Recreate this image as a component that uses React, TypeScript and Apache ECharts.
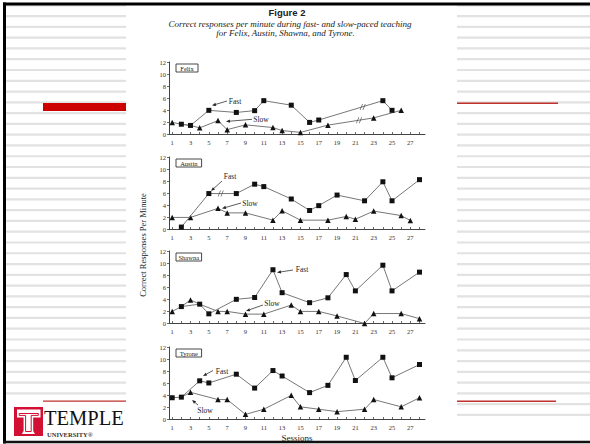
import React, { useEffect, useRef } from "react";
import * as echarts from "echarts";

// ---- data ----
const sessions: number[] = Array.from({ length: 28 }, (_, i) => i + 1);
const labelSessions: number[] = [1, 3, 5, 7, 9, 11, 13, 15, 17, 19, 21, 23, 25, 27];
const students: string[] = ["Felix", "Austin", "Shawna", "Tyrone"];

const felixFast: [number, number][] = [[2, 1.7], [3, 1.5], [5, 4.0], [8, 3.65], [10, 3.95], [11, 5.6], [14, 4.85], [16, 2.0], [17, 2.4], [24, 5.6], [25, 4.0]];
const felixSlow: [number, number][] = [[1, 2.0], [2, 1.7], [3, 1.5], [4, 1.1], [6, 2.3], [7, 0.8], [9, 1.6], [12, 1.15], [13, 0.65], [15, 0.35], [18, 1.55], [23, 2.75], [26, 4.0]];
const austinFast: [number, number][] = [[2, 0.4], [5, 5.95], [8, 5.95], [10, 7.5], [11, 7.1], [14, 5.05], [16, 3.15], [17, 3.95], [19, 5.7], [22, 4.75], [24, 7.9], [25, 4.75], [28, 8.25]];
const austinSlow: [number, number][] = [[1, 2.0], [3, 2.0], [6, 3.5], [7, 2.75], [9, 2.75], [12, 1.55], [13, 3.1], [15, 1.55], [18, 1.55], [20, 2.15], [21, 1.7], [23, 3.05], [26, 2.3], [27, 1.5]];
const shawnaFast: [number, number][] = [[2, 2.8], [4, 3.2], [5, 1.6], [8, 4.0], [10, 4.3], [12, 8.9], [13, 5.1], [16, 3.45], [18, 4.25], [20, 8.1], [21, 5.4], [24, 9.65], [25, 5.4], [28, 8.5]];
const shawnaSlow: [number, number][] = [[1, 2.0], [2, 2.8], [3, 3.9], [4, 3.2], [6, 2.0], [7, 2.0], [9, 1.55], [11, 1.55], [14, 3.05], [15, 2.0], [17, 2.0], [19, 1.25], [22, 0.0], [23, 1.65], [26, 1.65], [28, 0.8]];
const tyroneFast: [number, number][] = [[1, 3.6], [2, 3.7], [4, 6.4], [5, 6.05], [8, 7.5], [10, 5.2], [12, 8.1], [13, 7.2], [16, 4.45], [18, 5.65], [20, 10.3], [21, 6.45], [24, 10.3], [25, 6.9], [28, 9.1]];
const tyroneSlow: [number, number][] = [[2, 3.7], [3, 4.5], [6, 3.3], [7, 3.3], [9, 0.85], [11, 1.7], [14, 4.0], [15, 2.1], [17, 1.7], [19, 1.3], [22, 1.7], [23, 3.3], [26, 2.1], [28, 3.6]];

const fastData = [felixFast, austinFast, shawnaFast, tyroneFast];
const slowData = [felixSlow, austinSlow, shawnaSlow, tyroneSlow];
// break marks ("//") on the lines
const breakData: [number, number][][] = [[[21.8, 4.55], [21.4, 2.35]], [[6.3, 5.95]], [], []];

// ---- layout ----
const GRID_TOPS = [62, 157, 251, 347];
const GRID_H = 72.5;
const GRID_L = 169;
const GRID_W = 256;
const SERIF = "'Liberation Serif', 'Times New Roman', serif";

const annotations = [
  { fast: { t: [235, 101.5], a: [227, 101, 212, 105.5] }, slow: { t: [261, 119], a: [252, 119.3, 226, 121.5] } },
  { fast: { t: [230, 176.5], a: [222, 181, 211, 191] }, slow: { t: [250, 203.5], a: [241, 203, 222, 208.5] } },
  { fast: { t: [302, 269.5], a: [293, 270, 277, 272.5] }, slow: { t: [272, 303.5], a: [263, 305, 246, 311] } },
  { fast: { t: [222, 371.5], a: [213, 370.5, 203, 376] }, slow: { t: [205, 410], a: [198, 405, 192, 400] } },
];

function arrow(x1: number, y1: number, x2: number, y2: number): any[] {
  const dx = x2 - x1, dy = y2 - y1;
  const len = Math.sqrt(dx * dx + dy * dy) || 1;
  const ux = dx / len, uy = dy / len;
  const hl = 4, hw = 1.6;
  const bx = x2 - ux * hl, by = y2 - uy * hl;
  return [
    { type: "line", shape: { x1, y1, x2: bx, y2: by }, style: { stroke: "#333", lineWidth: 0.8 }, silent: true },
    {
      type: "polygon",
      shape: { points: [[x2, y2], [bx - uy * hw, by + ux * hw], [bx + uy * hw, by - ux * hw]] },
      style: { fill: "#222" },
      silent: true,
    },
  ];
}

function text(x: number, y: number, t: string, font: string, extra: any = {}): any {
  const align = (extra.style && extra.style.align) || "center";
  return {
    type: "text",
    x,
    y,
    silent: true,
    ...extra,
    style: {
      text: t,
      font,
      fill: "#222",
      align,
      verticalAlign: "middle",
      textAlign: align,
      textVerticalAlign: "middle",
      ...(extra.style || {}),
    },
  };
}

function buildGraphics(): any[] {
  const g: any[] = [];
  // stripes on the side columns
  for (let n = -1; n <= 37; n++) {
    const y = 16 + n * 10.78;
    if (y < 396) g.push({ type: "rect", shape: { x: 6, y: y - 1, width: 120, height: 2.2 }, style: { fill: "#e2e2e2" }, silent: true });
    g.push({ type: "rect", shape: { x: 457, y: y - 1, width: 133, height: 2.2 }, style: { fill: "#e2e2e2" }, silent: true });
  }
  // red accents
  g.push({ type: "rect", shape: { x: 43, y: 103, width: 83, height: 8 }, style: { fill: "#cc0000" }, silent: true });
  g.push({ type: "rect", shape: { x: 457, y: 102.6, width: 101, height: 1.4 }, style: { fill: "#c0302c" }, silent: true });
  g.push({ type: "rect", shape: { x: 43, y: 400.6, width: 83, height: 1.2 }, style: { fill: "#c0302c" }, silent: true });
  g.push({ type: "rect", shape: { x: 457, y: 400.6, width: 99, height: 1.4 }, style: { fill: "#c0302c" }, silent: true });
  // black frame
  g.push({ type: "rect", shape: { x: 3, y: 2.5, width: 587, height: 3 }, style: { fill: "#000" }, silent: true });
  g.push({ type: "rect", shape: { x: 3, y: 2.5, width: 3, height: 441 }, style: { fill: "#000" }, silent: true });
  g.push({ type: "rect", shape: { x: 3, y: 440.8, width: 587, height: 2.5 }, style: { fill: "#111" }, silent: true });

  // Temple logo
  g.push({ type: "rect", shape: { x: 14, y: 407, width: 29, height: 29 }, style: { fill: "#d21034" }, silent: true });
  g.push({
    type: "polygon",
    shape: { points: [[17, 409.5], [40.5, 409.5], [40.5, 417.5], [33.2, 417.5], [33.2, 431], [35, 434], [21.8, 434], [23.6, 431], [23.6, 417.5], [17, 417.5]] },
    style: { fill: "#fff" },
    silent: true,
  });
  g.push({
    type: "polyline",
    shape: { points: [[19.2, 413.5], [38.3, 413.5], [38.3, 415.4], [31.2, 415.4], [31.2, 431.5], [25.6, 431.5], [25.6, 415.4], [19.2, 415.4], [19.2, 413.5]] },
    style: { stroke: "#d21034", lineWidth: 1, fill: "none" },
    silent: true,
  });
  g.push(text(44, 417.5, "TEMPLE", `20.5px ${SERIF}`, { style: { fill: "#111", align: "left" } }));
  g.push(text(47, 434, "UNIVERSITY®", `bold 6.5px ${SERIF}`, { style: { fill: "#333", align: "left" } }));

  // titles
  g.push(text(287, 12.5, "Figure 2", "bold 9.5px 'Liberation Sans', Arial, sans-serif"));
  g.push(text(290, 24.3, "Correct responses per minute during fast- and slow-paced teaching", `italic 9px ${SERIF}`));
  g.push(text(285.5, 33.3, "for Felix, Austin, Shawna, and Tyrone.", `italic 9px ${SERIF}`));

  // y-axis label
  g.push(text(143, 245, "Correct Responses Per Minute", `8.5px ${SERIF}`, { rotation: Math.PI / 2 }));

  // name boxes and annotations
  students.forEach((name, i) => {
    const top = GRID_TOPS[i];
    const w = name.length * 3.6 + 4;
    g.push({ type: "rect", shape: { x: 176, y: top + 2, width: w, height: 8 }, style: { fill: "#fff", stroke: "#333", lineWidth: 0.9 }, silent: true });
    g.push(text(176 + w / 2, top + 6.2, name, `6.5px ${SERIF}`));
    const an = annotations[i];
    g.push(text(an.fast.t[0], an.fast.t[1], "Fast", `7.5px ${SERIF}`));
    g.push(text(an.slow.t[0], an.slow.t[1], "Slow", `7.5px ${SERIF}`));
    const fa = an.fast.a, sa = an.slow.a;
    g.push(...arrow(fa[0], fa[1], fa[2], fa[3]));
    g.push(...arrow(sa[0], sa[1], sa[2], sa[3]));
  });
  return g;
}

function buildOption(): any {
  const grid: any[] = [], xAxis: any[] = [], yAxis: any[] = [], series: any[] = [];
  students.forEach((name, i) => {
    grid.push({ left: GRID_L, top: GRID_TOPS[i], width: GRID_W, height: GRID_H });
    xAxis.push({
      type: "value",
      gridIndex: i,
      min: 0.65,
      max: 28.6,
      axisLine: { show: true, onZero: false, lineStyle: { color: "#444", width: 1 } },
      axisTick: { show: true, inside: true, length: 2.5, customValues: sessions, lineStyle: { color: "#444", width: 0.8 } },
      axisLabel: { customValues: labelSessions, fontSize: 6.5, fontFamily: SERIF, color: "#333", margin: 4 },
      splitLine: { show: false },
      name: i === 3 ? "Sessions" : "",
      nameLocation: "middle",
      nameGap: 14,
      nameTextStyle: { fontSize: 9, fontFamily: SERIF, color: "#222" },
    });
    yAxis.push({
      type: "value",
      gridIndex: i,
      min: 0,
      max: 12,
      interval: 2,
      axisLine: { show: true, lineStyle: { color: "#444", width: 1 } },
      axisTick: { show: true, length: 2, lineStyle: { color: "#444", width: 0.8 } },
      axisLabel: { fontSize: 6.5, fontFamily: SERIF, color: "#333", margin: 3 },
      splitLine: { show: false },
    });
    const fast = fastData[i];
    const slow = slowData[i];
    series.push({
      type: "line",
      name: name + " fast",
      xAxisIndex: i,
      yAxisIndex: i,
      data: fast.map((p) => ({ value: p })),
      symbol: "rect",
      symbolSize: 5,
      lineStyle: { color: "#777", width: 1 },
      itemStyle: { color: "#111" },
      z: 3,
    });
    series.push({
      type: "line",
      name: name + " slow",
      xAxisIndex: i,
      yAxisIndex: i,
      data: slow.map((p) => {
        const shared = fast.some((f) => f[0] === p[0] && f[1] === p[1]);
        return shared ? { value: p, symbol: "none" } : { value: p };
      }),
      symbol: "triangle",
      symbolSize: 5.5,
      lineStyle: { color: "#777", width: 1 },
      itemStyle: { color: "#111" },
      z: 2,
    });
    if (breakData[i].length) {
      series.push({
        type: "scatter",
        xAxisIndex: i,
        yAxisIndex: i,
        data: breakData[i],
        symbol: "path://M0,10L3,0L4,0L1,10Z M3.5,10L6.5,0L7.5,0L4.5,10Z",
        symbolSize: [6, 6],
        itemStyle: { color: "#444" },
        z: 4,
      });
    }
  });
  return {
    animation: false,
    backgroundColor: "#fff",
    grid,
    xAxis,
    yAxis,
    series,
    graphic: { elements: buildGraphics() },
  };
}

export default function App() {
  const ref = useRef<HTMLDivElement>(null);
  useEffect(() => {
    if (!ref.current) return;
    const chart = echarts.init(ref.current, undefined, { renderer: "svg" });
    chart.setOption(buildOption());
    return () => chart.dispose();
  }, []);
  return <div ref={ref} style={{ position: "absolute", left: 0, top: 0, width: 590, height: 444 }} />;
}
